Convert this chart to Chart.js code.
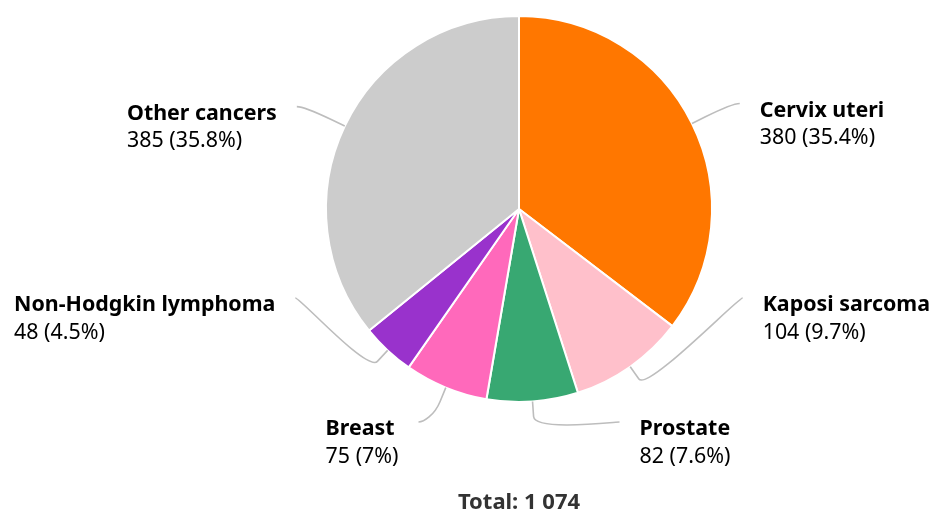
<!DOCTYPE html>
<html lang="en">
<head>
  <meta charset="UTF-8">
  <title>Cancer cases by site</title>
  <script src="https://cdn.jsdelivr.net/npm/chart.js"></script>
  <style>
    body {
      margin: 0;
      background: #fff;
    }
    #wrap {
      width: 933px;
      height: 513px;
    }
  </style>
</head>
<body>
  <div id="wrap"><canvas id="chart"></canvas></div>

  <script>
    // data
    const categories = ['Cervix uteri', 'Kaposi sarcoma', 'Prostate', 'Breast', 'Non-Hodgkin lymphoma', 'Other cancers'];
    const counts = [380, 104, 82, 75, 48, 385];
    const sliceColors = ['#ff7700', '#ffc0cb', '#38a872', '#ff69bb', '#9932cc', '#cccccc'];

    const FONT = '"Noto Sans", "Open Sans", sans-serif';
    const total = counts.reduce((a, b) => a + b, 0);

    // 1074 -> "1 074"
    function fmt(n) {
      return String(n).replace(/\B(?=(\d{3})+(?!\d))/g, ' ');
    }
    function pct(v) {
      return String(Math.round(v / total * 1000) / 10);
    }

    // labels outside the pie with bent connectors
    const sliceLabels = {
      id: 'sliceLabels',
      afterDatasetsDraw(chart) {
        const ctx = chart.ctx;
        const arcs = chart.getDatasetMeta(0).data;
        const cx = arcs[0].x, cy = arcs[0].y, r = arcs[0].outerRadius;
        const R = r + 45;
        const maxY = chart.chartArea.bottom + 19;
        const gap = 124;

        const items = arcs.map((arc, i) => {
          const mid = (arc.startAngle + arc.endAngle) / 2;
          return { i, cos: Math.cos(mid), sin: Math.sin(mid), right: Math.cos(mid) >= 0, y: cy + R * Math.sin(mid) };
        });

        // push labels up so they don't collide
        [true, false].forEach(side => {
          const list = items.filter(d => d.right === side).sort((a, b) => b.y - a.y);
          let prev = Infinity;
          list.forEach(d => {
            d.y = Math.min(d.y, maxY, prev - gap);
            prev = d.y;
          });
        });

        ctx.save();
        items.forEach(d => {
          const dy = d.y - cy + 5;
          const dx = Math.sqrt(Math.max(R * R - dy * dy, 0)) + 5;
          const ex = cx + (d.right ? dx : -dx);
          const ey = d.y;
          const tx = cx + r * d.cos, ty = cy + r * d.sin;
          const bx = cx + (r + 15) * d.cos, by = cy + (r + 15) * d.sin;

          ctx.beginPath();
          ctx.moveTo(ex, ey);
          ctx.bezierCurveTo(ex + (d.right ? -5 : 5), ey, 2 * bx - tx, 2 * by - ty, bx, by);
          ctx.lineTo(tx, ty);
          ctx.strokeStyle = '#bdbdbd';
          ctx.lineWidth = 1.6;
          ctx.stroke();

          const name = categories[d.i];
          const val = counts[d.i] + ' (' + pct(counts[d.i]) + '%)';
          ctx.textAlign = 'left';
          ctx.textBaseline = 'alphabetic';
          ctx.fillStyle = '#000';
          ctx.font = 'bold 21.4px ' + FONT;
          const w1 = ctx.measureText(name).width;
          ctx.font = '21.4px ' + FONT;
          const w2 = ctx.measureText(val).width;
          const x = d.right ? ex + 20 : ex - 20 - Math.max(w1, w2);
          ctx.font = 'bold 21.4px ' + FONT;
          ctx.fillText(name, x, ey + 13);
          ctx.font = '21.4px ' + FONT;
          ctx.fillText(val, x, ey + 40.5);
        });

        ctx.font = 'bold 22px ' + FONT;
        ctx.textAlign = 'center';
        ctx.fillStyle = '#333';
        ctx.fillText('Total: ' + fmt(total), cx, 509);
        ctx.restore();
      }
    };

    const ctx = document.getElementById('chart').getContext('2d');
    const chart = new Chart(ctx, {
      type: 'pie',
      data: {
        labels: categories,
        datasets: [{
          data: counts,
          backgroundColor: sliceColors,
          borderColor: '#ffffff',
          borderWidth: 2,
          hoverOffset: 0
        }]
      },
      options: {
        responsive: true,
        maintainAspectRatio: false,
        animation: false,
        layout: { padding: { left: 325, right: 220, top: 15, bottom: 110 } },
        plugins: {
          legend: { display: false },
          tooltip: { enabled: false }
        }
      },
      plugins: [sliceLabels]
    });
  </script>
</body>
</html>
